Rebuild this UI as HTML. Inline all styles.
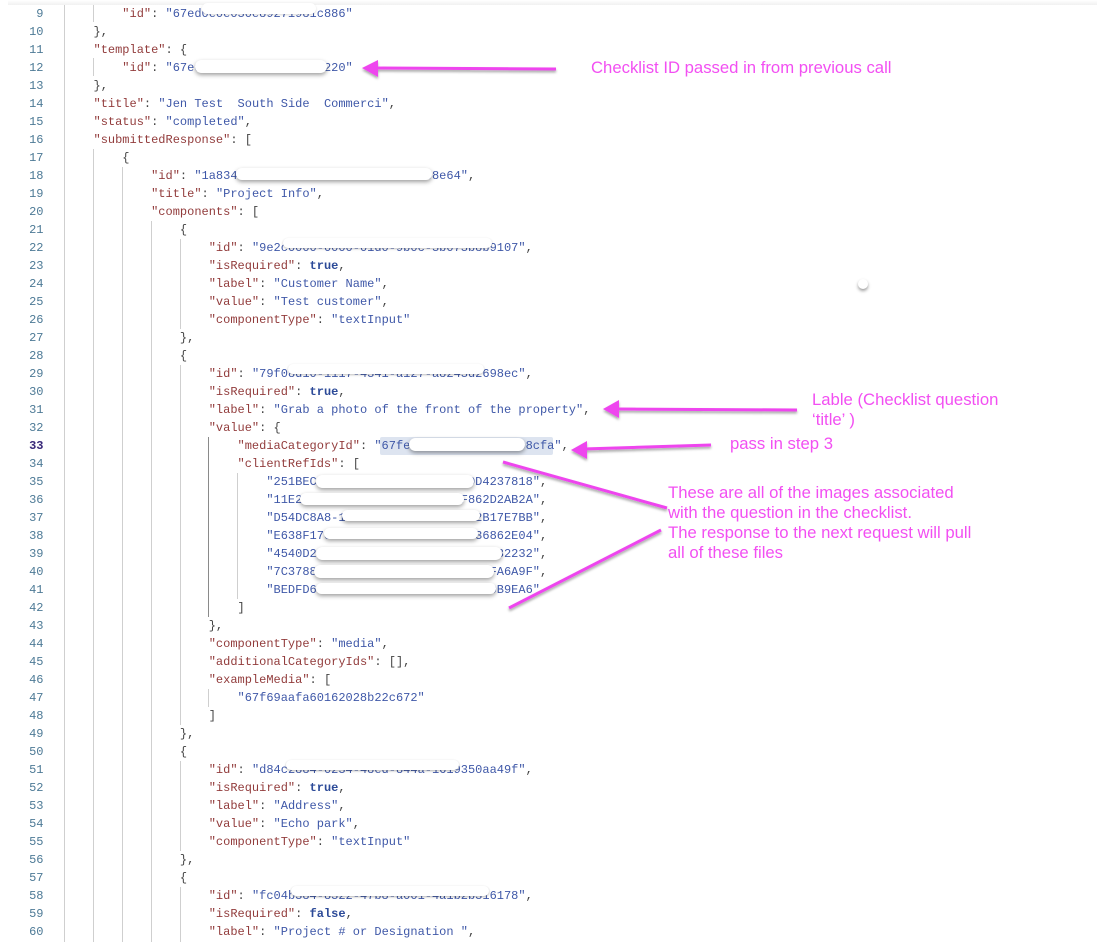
<!DOCTYPE html>
<html><head><meta charset="utf-8">
<style>
html,body{margin:0;padding:0;background:#fff}
#p{position:relative;width:1097px;height:942px;overflow:hidden;background:#fff}
pre{position:absolute;margin:0;font:12px/18px "Liberation Mono",monospace;color:#444;filter:blur(.3px)}
#n{left:0;width:43.5px;top:5px;text-align:right;color:#4d7a96}
#c{left:64.7px;top:5px}
i{font-style:normal;color:#923c3c}
s{text-decoration:none;color:#3f58a8}
b{color:#2c4a98}
u{text-decoration:none;color:#3a2a7a;font-weight:bold}
.g{position:absolute;width:1px;background:#cfcfcf}
.d{background:#8a8a8a}
.h{position:absolute;background:#dde4f0;border-radius:2px}
.m{position:absolute;background:#fff;border-radius:7px;box-shadow:0 2px 4px rgba(0,0,0,.38)}
.t{position:absolute;font:16.7px/20px "Liberation Sans",sans-serif;color:#f24ff2;white-space:nowrap;filter:blur(.25px)}
svg{position:absolute;left:0;top:0}
</style></head><body><div id="p">
<div style="position:absolute;left:8px;right:0;top:0;height:5px;background:linear-gradient(#fff,#f1f1f1)"></div>
<div class="g" style="left:64px;top:5px;height:937px"></div>
<div class="g" style="left:93px;top:5px;height:17px"></div>
<div class="g" style="left:93px;top:58px;height:18px"></div>
<div class="g" style="left:93px;top:149px;height:793px"></div>
<div class="g" style="left:122px;top:167px;height:775px"></div>
<div class="g" style="left:151px;top:221px;height:721px"></div>
<div class="g" style="left:180px;top:239px;height:90px"></div>
<div class="g" style="left:180px;top:365px;height:360px"></div>
<div class="g" style="left:180px;top:761px;height:90px"></div>
<div class="g" style="left:180px;top:887px;height:55px"></div>
<div class="g d" style="left:208px;top:437px;height:180px"></div>
<div class="g" style="left:208px;top:689px;height:18px"></div>
<div class="g" style="left:237px;top:473px;height:126px"></div>
<div class="h" style="left:380px;top:437px;width:173px;height:18px"></div>
<pre id="n">9
10
11
12
13
14
15
16
17
18
19
20
21
22
23
24
25
26
27
28
29
30
31
32
<u>33</u>
34
35
36
37
38
39
40
41
42
43
44
45
46
47
48
49
50
51
52
53
54
55
56
57
58
59
60</pre>
<pre id="c">        <i>"id"</i>: <s>"67ed0e0e030e89271981c886"</s>
    },
    <i>"template"</i>: {
        <i>"id"</i>: <s>"67e000000000000000000220"</s>
    },
    <i>"title"</i>: <s>"Jen Test  South Side  Commerci"</s>,
    <i>"status"</i>: <s>"completed"</s>,
    <i>"submittedResponse"</i>: [
        {
            <i>"id"</i>: <s>"1a834a1a-90e0-4000-8000-0000000b8e64"</s>,
            <i>"title"</i>: <s>"Project Info"</s>,
            <i>"components"</i>: [
                {
                    <i>"id"</i>: <s>"9e2c0000-0000-01d0-9b0c-3b073b8b9107"</s>,
                    <i>"isRequired"</i>: <b><strong>true</strong></b>,
                    <i>"label"</i>: <s>"Customer Name"</s>,
                    <i>"value"</i>: <s>"Test customer"</s>,
                    <i>"componentType"</i>: <s>"textInput"</s>
                },
                {
                    <i>"id"</i>: <s>"79f08d10-1117-4341-a127-a8243d2698ec"</s>,
                    <i>"isRequired"</i>: <b><strong>true</strong></b>,
                    <i>"label"</i>: <s>"Grab a photo of the front of the property"</s>,
                    <i>"value"</i>: {
                        <i>"mediaCategoryId"</i>: <s>"67fe00000000000000008cfa"</s>,
                        <i>"clientRefIds"</i>: [
                            <s>"251BEC0A-0000-4467-0000-0000D4237818"</s>,
                            <s>"11E20000-0000-0000-0000-00F862D2AB2A"</s>,
                            <s>"D54DC8A8-1000-4070-B0CA-B2382B17E7BB"</s>,
                            <s>"E638F170-01B0-4172-A2B9-000036862E04"</s>,
                            <s>"4540D200-0000-0000-0000-000000032232"</s>,
                            <s>"7C378800-0000-4000-0000-000A52FA6A9F"</s>,
                            <s>"BEDFD600-0000-0000-0000-0000000B9EA6"</s>
                        ]
                    },
                    <i>"componentType"</i>: <s>"media"</s>,
                    <i>"additionalCategoryIds"</i>: [],
                    <i>"exampleMedia"</i>: [
                        <s>"67f69aafa60162028b22c672"</s>
                    ]
                },
                {
                    <i>"id"</i>: <s>"d84c2884-0234-48ed-844a-1619350aa49f"</s>,
                    <i>"isRequired"</i>: <b><strong>true</strong></b>,
                    <i>"label"</i>: <s>"Address"</s>,
                    <i>"value"</i>: <s>"Echo park"</s>,
                    <i>"componentType"</i>: <s>"textInput"</s>
                },
                {
                    <i>"id"</i>: <s>"fc04b384-8322-47b8-a001-4a1b2b316178"</s>,
                    <i>"isRequired"</i>: <b><strong>false</strong></b>,
                    <i>"label"</i>: <s>"Project # or Designation "</s>,</pre>
<div class="m" style="left:202px;top:3px;width:114px;height:11px;box-shadow:0 1px 2px rgba(0,0,0,.15)"></div>
<div class="m" style="left:195px;top:60px;width:132px;height:13px"></div>
<div class="m" style="left:236px;top:168px;width:196px;height:12px"></div>
<div class="m" style="left:283px;top:238px;width:209px;height:10px;box-shadow:0 1px 2px rgba(0,0,0,.25)"></div>
<div class="m" style="left:288px;top:364px;width:196px;height:10px;box-shadow:0 1px 2px rgba(0,0,0,.25)"></div>
<div class="m" style="left:409px;top:438px;width:116px;height:13px"></div>
<div class="m" style="left:316px;top:475px;width:158px;height:13px"></div>
<div class="m" style="left:300px;top:493px;width:164px;height:12px"></div>
<div class="m" style="left:342px;top:510px;width:138px;height:11px"></div>
<div class="m" style="left:324px;top:528px;width:154px;height:11px"></div>
<div class="m" style="left:316px;top:547px;width:186px;height:13px"></div>
<div class="m" style="left:314px;top:565px;width:180px;height:13px"></div>
<div class="m" style="left:316px;top:583px;width:180px;height:11px"></div>
<div class="m" style="left:286px;top:760px;width:173px;height:10px;box-shadow:0 1px 2px rgba(0,0,0,.3)"></div>
<div class="m" style="left:291px;top:886px;width:198px;height:10px;box-shadow:0 1px 2px rgba(0,0,0,.3)"></div>
<div style="position:absolute;left:858px;top:279px;width:10px;height:10px;border-radius:50%;background:#fff;box-shadow:0 2px 3px rgba(0,0,0,.4)"></div>
<svg width="1097" height="942" viewBox="0 0 1097 942">
<defs><filter id="f" x="-20%" y="-40%" width="140%" height="200%"><feDropShadow dx="0" dy="2" stdDeviation="1.3" flood-color="#000" flood-opacity=".35"/></filter></defs>
<g fill="#ee44ee" stroke="#ee44ee" filter="url(#f)">
<path d="M556 69L375 68" stroke-width="3" fill="none"/>
<path d="M362 68L378 60V77Z" stroke="none"/>
<path d="M797 410L615 409" stroke-width="3" fill="none"/>
<path d="M603 409L619 400V418Z" stroke="none"/>
<path d="M711 445L583 449" stroke-width="3" fill="none"/>
<path d="M571 450L587 441V459Z" stroke="none"/>
<path d="M503 462L667 508" stroke-width="3" fill="none"/>
<path d="M661 530L509 608" stroke-width="3" fill="none"/>
</g></svg>
<div class="t" style="left:591px;top:58px">Checklist ID passed in from previous call</div>
<div class="t" style="left:812px;top:390px">Lable (Checklist question<br>‘title’ )</div>
<div class="t" style="left:730px;top:434px">pass in step 3</div>
<div class="t" style="left:668px;top:483px">These are all of the images associated<br>with the question in the checklist.<br>The response to the next request will pull<br>all of these files</div>
</div></body></html>
